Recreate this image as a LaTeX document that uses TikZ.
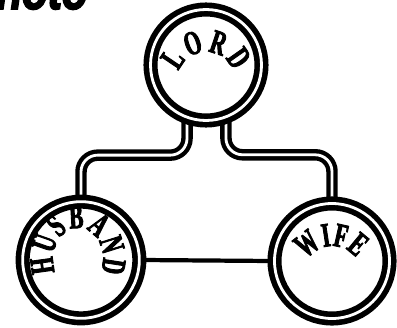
\documentclass[tikz,border=0pt]{standalone}
\usepackage{fontspec}
\usetikzlibrary{decorations.text, backgrounds}
\newfontfamily\ringfont[FakeStretch=0.62, FakeBold=2.5]{Liberation Serif Bold}
\newfontfamily\titlefont[FakeBold=3, FakeStretch=0.75]{Liberation Sans Bold Italic}

\begin{document}
\begin{tikzpicture}[
    x=0.03cm, y=0.03cm,
    ring/.style   ={circle, draw=black, line width=4.8pt, double=white, double distance=2.4pt, inner sep=0pt, minimum size=3.45cm},
    link/.style   ={draw=black, line width=3.7pt, double=white, double distance=2.4pt, rounded corners=0.5cm},
    bar/.style    ={draw=black, line width=3.6pt},
    arctext/.style={decorate, decoration={text along path, text align=fit to path, text={#1}}}
]
\useasboundingbox (0,0) rectangle (397,327);
% cut-off heading at the top edge
\begin{scope}
\clip (0,0) rectangle (397,327);
\node[anchor=base west, inner sep=0pt, font=\titlefont\fontsize{48}{48}\selectfont] (title) at (-32,318) {Photo};
\end{scope}
\node[ring, minimum size=3.33cm] (lord) at (206,262) {};
\node[ring, minimum size=3.5cm] (husband) at (81,67) {};
\node[ring] (wife) at (332,66) {};
\begin{scope}[on background layer]
\draw[link] (lord.251) -- ++(0,-35) -| (husband.north);
\draw[link] (lord.290) -- ++(0,-35) -| (wife.north);
\draw[bar] (husband.east) -- (wife.west);
\end{scope}
\begin{scope}
\ringfont\fontsize{29}{29}\selectfont
\path[arctext=LORD] (206,246) ++(160:29) arc[start angle=160, end angle=20, radius=29];
\path[arctext=HUSBAND] (78,68) ++(205:25 and 31) arc[start angle=205, end angle=-25, x radius=25, y radius=31];
\path[arctext=WIFE] (332,51) ++(148:30) arc[start angle=148, end angle=37, radius=30];
\end{scope}
\end{tikzpicture}
\end{document}
